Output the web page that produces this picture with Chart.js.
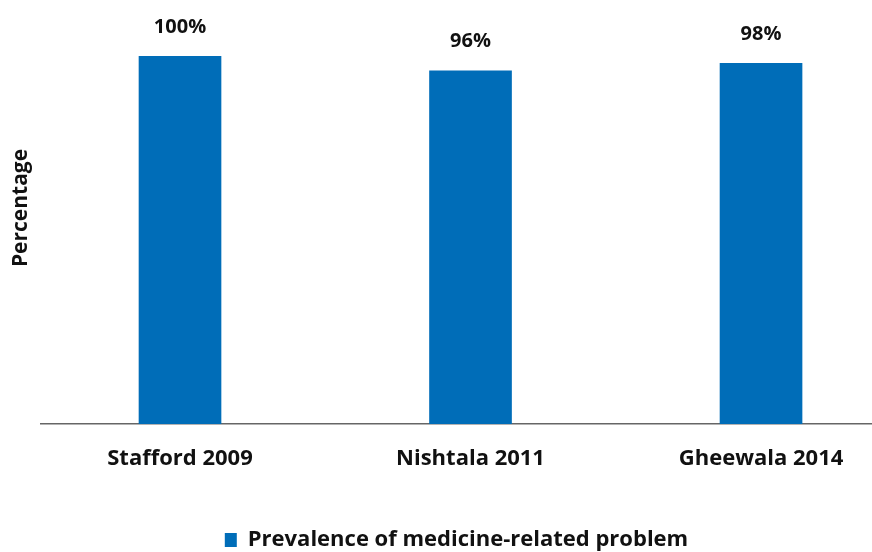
<!DOCTYPE html>
<html>
<head>
<meta charset="utf-8">
<script src="https://cdn.jsdelivr.net/npm/chart.js@4"></script>
<style>
  html, body { margin: 0; padding: 0; background: #fff; overflow: hidden; }
  #wrap { width: 872px; height: 552px; }
</style>
</head>
<body>
<div id="wrap"><canvas id="myChart" width="872" height="552"></canvas></div>
<script>
// ---------- data
const studies = ["Stafford 2009", "Nishtala 2011", "Gheewala 2014"];
const prevalence = [100, 96, 98];
const seriesName = "Prevalence of medicine-related problem";
const yTitle = "Percentage";

const blue = "#006db8";
const font = "'Open Sans', 'Noto Sans', sans-serif";

// bars on a linear x axis so the first and last bar sit where the original has them
const points = prevalence.map((v, i) => ({ x: i, y: v }));

//---------- labels on top of bars + y title
const extras = {
  id: "extras",
  afterDatasetsDraw(chart) {
    const ctx = chart.ctx;
    ctx.save();
    ctx.fillStyle = "#111";
    ctx.font = "bold 20px " + font;
    ctx.textAlign = "center";
    ctx.textBaseline = "middle";
    chart.getDatasetMeta(0).data.forEach((bar, i) => {
      ctx.fillText(prevalence[i] + "%", bar.x, bar.y - 29);
    });
    ctx.translate(21, 208);
    ctx.rotate(-Math.PI / 2);
    ctx.font = "bold 21px " + font;
    ctx.fillText(yTitle, 0, 0);
    ctx.restore();
  },
};

const ctx = document.getElementById("myChart");
new Chart(ctx, {
  type: "bar",
  data: {
    datasets: [
      {
        label: seriesName,
        data: points,
        backgroundColor: blue,
        barThickness: 82,
      },
    ],
  },
  options: {
    responsive: false,
    animation: false,
    layout: { padding: { top: 56, left: 41, right: 0, bottom: -9 } },
    plugins: {
      tooltip: { enabled: false },
      legend: {
        position: "bottom",
        labels: {
          color: "#111",
          font: { family: font, size: 22, weight: "bold" },
          boxWidth: 12,
          boxHeight: 14,
          padding: 10,
        },
      },
    },
    scales: {
      x: {
        type: "linear",
        offset: false,
        min: -0.4785,
        max: 2.382,
        grid: { display: false, offset: false },
        border: { display: true, color: "#666", width: 1.5 },
        afterBuildTicks: (s) => {
          s.ticks = studies.map((c, i) => ({ value: i }));
        },
        afterFit: (s) => {
          s.height = 95;
        },
        ticks: {
          color: "#111",
          padding: 14,
          font: { family: font, size: 22, weight: "bold" },
          callback: (v) => studies[v],
        },
      },
      y: {
        display: false,
        min: 0,
        max: 100,
      },
    },
  },
  plugins: [extras],
});
</script>
</body>
</html>
